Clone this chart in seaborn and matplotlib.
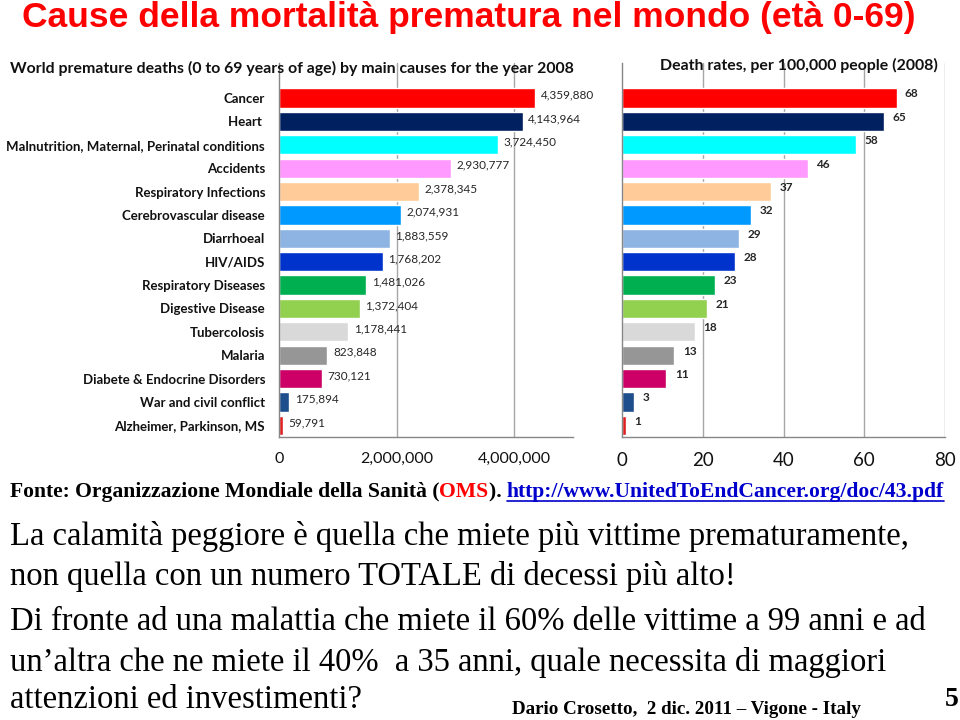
import matplotlib
matplotlib.use("Agg")
import matplotlib.pyplot as plt
import seaborn as sns
import pandas as pd
from matplotlib.lines import Line2D
from matplotlib.ticker import FuncFormatter

# ---------------- data ----------------
causes = ["Cancer", "Heart ", "Malnutrition, Maternal, Perinatal conditions", "Accidents",
          "Respiratory Infections", "Cerebrovascular disease", "Diarrhoeal", "HIV/AIDS",
          "Respiratory Diseases", "Digestive Disease", "Tubercolosis", "Malaria",
          "Diabete & Endocrine Disorders", "War and civil conflict", "Alzheimer, Parkinson, MS"]
deaths = [4359880, 4143964, 3724450, 2930777, 2378345, 2074931, 1883559, 1768202,
          1481026, 1372404, 1178441, 823848, 730121, 175894, 59791]
rates = [68, 65, 58, 46, 37, 32, 29, 28, 23, 21, 18, 13, 11, 3, 1]
colors = ["#FF0000", "#002060", "#00FFFF", "#FF99FF", "#FFCC99", "#0099FF", "#8DB4E2",
          "#0033CC", "#00B050", "#92D050", "#D9D9D9", "#969696", "#CC0066", "#1F4E8C", "#E02020"]
left_ticks = [0, 2000000, 4000000]
right_ticks = [0, 20, 40, 60, 80]

df = pd.DataFrame({"cause": causes, "deaths": deaths, "rate": rates})
palette = dict(zip(causes, colors))

sns.set_style("white")
plt.rcParams["font.family"] = ["Lato", "DejaVu Sans"]

fig = plt.figure(figsize=(9.6, 7.2), dpi=100)
W, H = 960, 720

def fx(px):
    return px / W

def fy(py):
    return 1 - py / H

top_px, bot_px = 63, 437
axL = fig.add_axes([fx(279), fy(bot_px), fx(573 - 279), (bot_px - top_px) / H])
axR = fig.add_axes([fx(622), fy(bot_px), fx(945 - 622), (bot_px - top_px) / H])

sns.barplot(data=df, y="cause", x="deaths", hue="cause", palette=palette, orient="h",
            width=0.82, legend=False, ax=axL, saturation=1)
sns.barplot(data=df, y="cause", x="rate", hue="cause", palette=palette, orient="h",
            width=0.82, legend=False, ax=axR, saturation=1)

grid_c = "#A6A6A6"
spine_c = "#868686"
n = len(causes)
bounds = [i - 0.5 for i in range(-1, n + 1)]

for ax, xmax, ticks in ((axL, 5000000, left_ticks), (axR, 80, right_ticks)):
    ax.set_xlim(0, xmax)
    ax.set_ylim(n - 0.5, -1.5)
    ax.set_xticks(ticks)
    ax.set_xlabel("")
    ax.set_ylabel("")
    for t in ticks[1:]:
        ax.axvline(t, color=grid_c, lw=1.0, zorder=0)
    for s in ("top", "right"):
        ax.spines[s].set_visible(False)
    for s in ("left", "bottom"):
        ax.spines[s].set_color(spine_c)
        ax.spines[s].set_linewidth(1.0)
    ax.set_yticks(bounds, minor=True)
    ax.tick_params(axis="y", which="minor", length=4, color=spine_c, direction="out")
    ax.tick_params(axis="y", which="major", length=0, pad=10)
    ax.tick_params(axis="x", length=5, color=spine_c, direction="out", pad=6)
    ax.set_facecolor("none")

axL.xaxis.set_major_formatter(FuncFormatter(lambda v, p: f"{int(v):,}"))
axL.tick_params(axis="x", labelsize=11.5, labelcolor="#111111")
axR.tick_params(axis="x", labelsize=13.5, labelcolor="#111111")
axL.set_yticks(range(n))
axL.set_yticklabels(causes, fontsize=9.5, fontweight="bold", color="#111111")
axR.set_yticks(range(n))
axR.set_yticklabels([""] * n)

for i, v in enumerate(deaths):
    axL.annotate(f"{v:,}", xy=(v, i), xytext=(4, 2), textcoords="offset points",
                 ha="left", va="center", fontsize=8.5, color="#262626")
for i, v in enumerate(rates):
    axR.annotate(f"{v}", xy=(v, i), xytext=(6, 3), textcoords="offset points",
                 ha="left", va="center", fontsize=8.5, fontweight="bold", color="#262626")

# chart titles
fig.text(fx(10), fy(68), "World premature deaths (0 to 69 years of age) by main causes for the year 2008",
         fontsize=11.4, fontweight="bold", color="#111111", va="center", ha="left")
fig.text(fx(938), fy(65), "Death rates, per 100,000 people (2008)",
         fontsize=11.4, fontweight="bold", color="#111111", va="center", ha="right")

# slide title
fig.text(fx(22), fy(18), "Cause della mortalità prematura nel mondo (età 0-69)",
         fontsize=25.5, fontweight="bold", color="#FF0000", va="center", ha="left",
         family=["Liberation Sans", "DejaVu Sans"])

serif = ["Liberation Serif", "DejaVu Serif"]
fs_src = 15.6

# source line with coloured pieces
t0 = fig.text(fx(10), fy(492), "Fonte: Organizzazione Mondiale della Sanità (",
              fontsize=fs_src, fontweight="bold", family=serif, color="black", va="center")
t1 = fig.text(0, 0, "OMS", fontsize=fs_src, fontweight="bold", family=serif, color="#FF0000",
              va="center")
t2 = fig.text(0, 0, "). ", fontsize=fs_src, fontweight="bold", family=serif, color="black",
              va="center")
t3 = fig.text(0, 0, "http://www.UnitedToEndCancer.org/doc/43.pdf", fontsize=fs_src,
              fontweight="bold", family=serif, color="#0000CC", va="center")

fig.canvas.draw()
r = fig.canvas.get_renderer()
x_cur = t0.get_window_extent(r).x1
for t in (t1, t2, t3):
    t.set_position((x_cur / W, fy(492)))
    fig.canvas.draw()
    x_cur = t.get_window_extent(r).x1
bb = t3.get_window_extent(r)
fig.add_artist(Line2D([bb.x0 / W, bb.x1 / W], [(bb.y0 + 1) / H, (bb.y0 + 1) / H],
                      color="#0000CC", lw=1.2, transform=fig.transFigure))

body = [
    ("La calamità peggiore è quella che miete più vittime prematuramente,", 537),
    ("non quella con un numero TOTALE di decessi più alto!", 577),
    ("Di fronte ad una malattia che miete il 60% delle vittime a 99 anni e ad", 622),
    ("un’altra che ne miete il 40%  a 35 anni, quale necessita di maggiori", 662),
    ("attenzioni ed investimenti?", 700),
]
for s, y in body:
    fig.text(fx(10), fy(y), s, fontsize=23.5, family=serif, color="black", va="center")

fig.text(fx(512), fy(709), "Dario Crosetto,  2 dic. 2011 – Vigone - Italy", fontsize=13.7,
         fontweight="bold", family=serif, color="black", va="center")
fig.text(fx(952), fy(700), "5", fontsize=20, fontweight="bold", family=serif,
         color="black", va="center", ha="center")

fig.savefig("out.png", dpi=100)
